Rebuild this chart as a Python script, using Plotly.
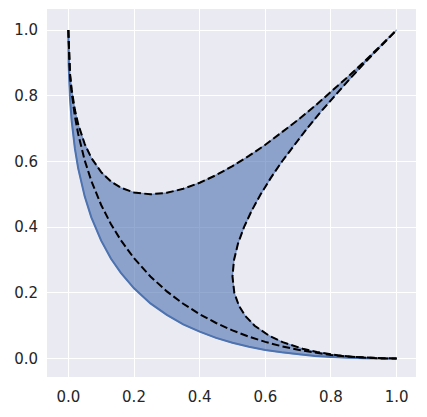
import plotly.graph_objects as go

# --- data ---
grid_t = [0.0, 0.002, 0.005, 0.01, 0.02, 0.03, 0.05, 0.07, 0.1, 0.13, 0.16, 0.2,
          0.25, 0.3, 0.35, 0.4, 0.45, 0.5, 0.55, 0.6, 0.65, 0.7, 0.75, 0.8,
          0.85, 0.9, 0.95, 1.0]
upper_y = [1.0, 0.9146, 0.8686, 0.82, 0.7572, 0.7136, 0.6528, 0.6109, 0.5675,
           0.5389, 0.52, 0.5056, 0.5, 0.5046, 0.5168, 0.5351, 0.5584, 0.5858,
           0.6168, 0.6508, 0.6876, 0.7267, 0.7679, 0.8111, 0.8561, 0.9026,
           0.9506, 1.0]
middle_y = [1.0, 0.9126, 0.8636, 0.81, 0.7372, 0.6836, 0.6028, 0.5409, 0.4675,
            0.4089, 0.36, 0.3056, 0.25, 0.2046, 0.1668, 0.1351, 0.1084, 0.0858,
            0.0668, 0.0508, 0.0375, 0.0267, 0.0179, 0.0111, 0.0061, 0.0026,
            0.0006, 0.0]
# right-hand boundary (mirror of the upper curve)
right_x = list(upper_y)
right_y = list(grid_t)

lower_x = [0.0, 0.001, 0.005, 0.01, 0.02, 0.03, 0.05, 0.07, 0.1, 0.13, 0.16, 0.2,
           0.25, 0.3, 0.35, 0.4, 0.45, 0.5, 0.55, 0.6, 0.65, 0.7, 0.75, 0.8,
           0.85, 0.9, 0.95, 1.0]
lower_y = [1.0, 0.894, 0.793, 0.725, 0.639, 0.579, 0.493, 0.430, 0.359, 0.304,
           0.261, 0.214, 0.168, 0.133, 0.104, 0.082, 0.063, 0.048, 0.036, 0.026,
           0.019, 0.013, 0.008, 0.005, 0.002, 0.001, 0.0002, 0.0]

tick_vals = [0.0, 0.2, 0.4, 0.6, 0.8, 1.0]
tick_text = ["0.0", "0.2", "0.4", "0.6", "0.8", "1.0"]

# --- figure ---
C0 = "rgb(76,114,176)"
poly_x = grid_t + right_x[::-1] + lower_x[::-1]
poly_y = upper_y + right_y[::-1] + lower_y[::-1]

fig = go.Figure()
fig.add_trace(go.Scatter(x=poly_x, y=poly_y, mode="lines", fill="toself",
                         fillcolor="rgba(76,114,176,0.6)",
                         line=dict(color="rgba(76,114,176,0.6)", width=1.2),
                         hoverinfo="skip", showlegend=False))
fig.add_trace(go.Scatter(x=lower_x, y=lower_y, mode="lines",
                         line=dict(color=C0, width=2), showlegend=False))
dash = "7.7px,3.3px"
for xs, ys in [(grid_t, upper_y), (grid_t, middle_y), (right_x, right_y)]:
    fig.add_trace(go.Scatter(x=xs, y=ys, mode="lines",
                             line=dict(color="black", width=2, dash=dash),
                             showlegend=False))

axis_common = dict(showgrid=True, gridcolor="white", gridwidth=1.4,
                   zeroline=False, showline=False, ticks="",
                   tickvals=tick_vals, ticktext=tick_text,
                   tickfont=dict(family="DejaVu Sans", size=15, color="#262626"))
fig.update_layout(
    width=427, height=417,
    margin=dict(l=47, r=11, t=9, b=40),
    paper_bgcolor="white", plot_bgcolor="#eaeaf2",
    xaxis=dict(range=[-0.065, 1.059], ticklabelstandoff=9, **axis_common),
    yaxis=dict(range=[-0.056, 1.064], ticklabelstandoff=8, **axis_common),
    showlegend=False,
)
fig.write_html("out.html")
